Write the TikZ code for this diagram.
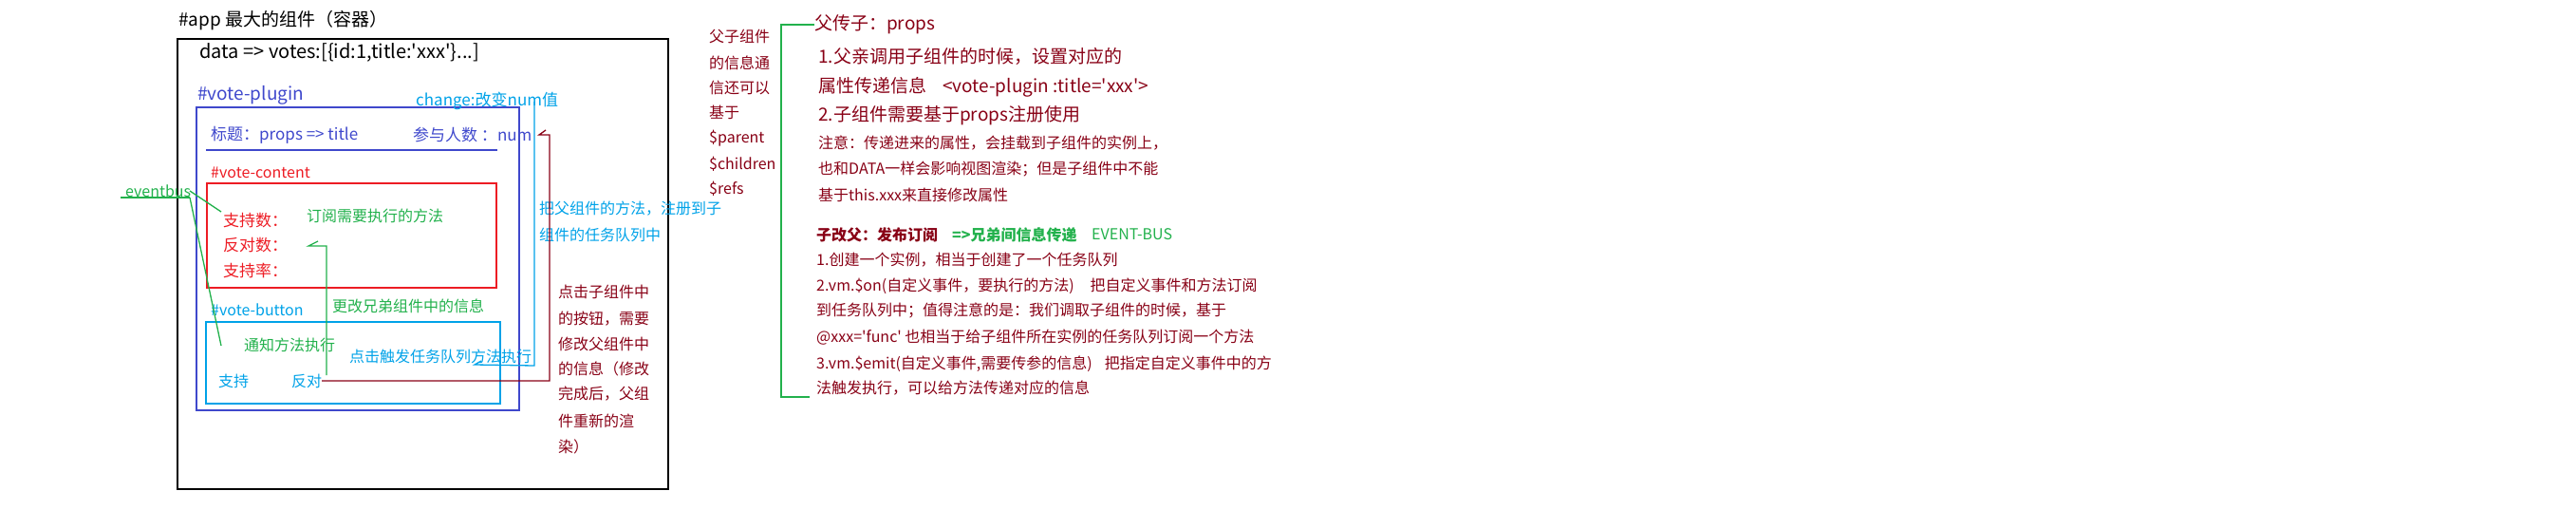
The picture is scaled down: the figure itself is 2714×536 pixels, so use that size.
\documentclass[tikz,border=0pt]{standalone}
\usepackage{fontspec}
\setmainfont{Noto Sans CJK SC}
\definecolor{pblue}{HTML}{3F48CC}
\definecolor{pred}{HTML}{ED1C24}
\definecolor{pcyan}{HTML}{00A2E8}
\definecolor{pgreen}{HTML}{22B14C}
\definecolor{pdark}{HTML}{880015}
\newcommand{\fs}[1]{\fontsize{#1}{#1}\selectfont}
\newcommand{\sq}{\textquotesingle}
\tikzset{
  txt/.style={anchor=west, inner sep=0pt, font=\fs{16}},
  big/.style={txt, font=\fs{19}},
  mid/.style={txt, font=\fs{17}},
  boxline/.style={draw, line width=1.3pt},
  conn/.style={line width=1.3pt},
}
\begin{document}
\begin{tikzpicture}[x=1pt,y=-1pt]
\useasboundingbox (0,0) rectangle (2714,536);
% boxes
\draw[boxline, black] (187,41) rectangle (704,515);
\draw[boxline, pblue] (207,113) rectangle (547,432);
\draw[boxline, pred] (218,193) rectangle (523,303);
\draw[boxline, pcyan] (217,339) rectangle (527,425);
\draw[conn, pblue] (217,158) -- (524,158);

% black texts
\node[big] (apptitle) at (188,22) {\#app 最大的组件（容器）};
\node[txt, font=\fs{20}] (data) at (210,55) {data => votes:[\{id:1,title:\sq xxx\sq\}...]};

% blue texts
\node[big, text=pblue] (vp) at (208,100) {\#vote-plugin};
\node[mid, text=pblue] (title) at (222,142) {标题：props => title};
\node[mid, text=pblue] (num) at (435,142) {参与人数 ：num};

% red texts
\node[txt, text=pred] (vc) at (222,182) {\#vote-content};
\node[mid, text=pred] (zcs) at (235,232) {支持数：};
\node[mid, text=pred] (fds) at (235,258) {反对数：};
\node[mid, text=pred] (zcl) at (235,285) {支持率：};

% cyan texts
\node[mid, text=pcyan] (change) at (438,106) {change:改变num值};
\node[txt, text=pcyan] (reg1) at (568,220) {把父组件的方法，注册到子};
\node[txt, text=pcyan] (reg2) at (568,247) {组件的任务队列中};
\node[txt, text=pcyan] (vb) at (222,326) {\#vote-button};
\node[txt, text=pcyan] (click) at (368,375) {点击触发任务队列方法执行};
\node[txt, text=pcyan] (zc) at (230,401) {支持};
\node[txt, text=pcyan] (fd) at (307,401) {反对};

% green texts
\node[txt, text=pgreen] (eb) at (132,201) {eventbus};
\node[txt, text=pgreen] (sub) at (323,227) {订阅需要执行的方法};
\node[txt, text=pgreen] (sib) at (350,322) {更改兄弟组件中的信息};
\node[txt, text=pgreen] (notify) at (257,363) {通知方法执行};

% dark red column
\node[txt, text=pdark] (p1) at (747,38) {父子组件};
\node[txt, text=pdark] (p2) at (747,66) {的信息通};
\node[txt, text=pdark] (p3) at (747,92) {信还可以};
\node[txt, text=pdark] (p4) at (747,118) {基于};
\node[txt, text=pdark] (p5) at (747,146) {\$parent};
\node[txt, text=pdark] (p6) at (747,173) {\$children};
\node[txt, text=pdark] (p7) at (747,199) {\$refs};

% dark red note in middle
\node[txt, text=pdark] (c1) at (588,307) {点击子组件中};
\node[txt, text=pdark] (c2) at (588,336) {的按钮，需要};
\node[txt, text=pdark] (c3) at (588,362) {修改父组件中};
\node[txt, text=pdark] (c4) at (588,388) {的信息（修改};
\node[txt, text=pdark] (c5) at (588,415) {完成后，父组};
\node[txt, text=pdark] (c6) at (588,443) {件重新的渲};
\node[txt, text=pdark] (c7) at (588,470) {染）};

% right block
\node[big, text=pdark] (r0) at (858,26) {父传子：props};
\node[big, text=pdark] (r1) at (862,59) {1.父亲调用子组件的时候，设置对应的};
\node[big, text=pdark] (r2) at (862,92) {属性传递信息\hspace{17pt}<vote-plugin :title=\sq xxx\sq>};
\node[big, text=pdark] (r3) at (862,122) {2.子组件需要基于props注册使用};
\node[txt, text=pdark] (r4) at (862,151) {注意：传递进来的属性，会挂载到子组件的实例上，};
\node[txt, text=pdark] (r5) at (862,178) {也和DATA一样会影响视图渲染；但是子组件中不能};
\node[txt, text=pdark] (r6) at (862,205) {基于this.xxx来直接修改属性};
\node[txt, text=pdark, font=\fs{16}\bfseries] (s0) at (860,247) {子改父：发布订阅};
\node[txt, text=pgreen, font=\fs{16}\bfseries] (s0b) at (1003,247) {=>兄弟间信息传递};
\node[txt, text=pgreen] (s0c) at (1150,247) {EVENT-BUS};
\node[txt, text=pdark] (s1) at (860,274) {1.创建一个实例，相当于创建了一个任务队列};
\node[txt, text=pdark] (s2) at (860,301) {2.vm.\$on(自定义事件，要执行的方法)\hspace{17pt}把自定义事件和方法订阅};
\node[txt, text=pdark] (s3) at (860,327) {到任务队列中；值得注意的是：我们调取子组件的时候，基于};
\node[txt, text=pdark] (s4) at (860,355) {@xxx=\sq func\sq{} 也相当于给子组件所在实例的任务队列订阅一个方法};
\node[txt, text=pdark] (s5) at (860,383) {3.vm.\$emit(自定义事件,需要传参的信息)\hspace{13pt}把指定自定义事件中的方};
\node[txt, text=pdark] (s6) at (860,409) {法触发执行，可以给方法传递对应的信息};

% connectors
% green eventbus
\coordinate (ebu1) at (127,208);
\coordinate (ebu2) at (200,208);
\coordinate (ebt) at (200,201);
\coordinate (zcsend) at (233,223);
\coordinate (notend) at (233,364);
\draw[conn, pgreen] (ebu1) -- (ebu2);
\draw[conn, pgreen] (ebt) -- (zcsend);
\draw[conn, pgreen] (ebu2) -- (notend);
% green from 反对 up to 反对数
\coordinate (g1) at (344,395);
\coordinate (g2) at (344,259);
\coordinate (g3) at (325,259);
\coordinate (g4) at (335,254);
\draw[conn, pgreen] (g1) -- (g2) -- (g3) -- (g4);
% green bracket
\coordinate (b1) at (858,26);
\coordinate (b2) at (823,26);
\coordinate (b3) at (823,418);
\coordinate (b4) at (853,418);
\draw[conn, pgreen] (b1) -- (b2) -- (b3) -- (b4);
% cyan
\coordinate (cy1) at (563,107);
\coordinate (cy2) at (563,385);
\coordinate (cy3) at (500,384);
\coordinate (cy4) at (507,380);
\draw[conn, pcyan] (cy1) -- (cy2) -- (cy3) -- (cy4);
% dark red
\coordinate (d1) at (339,401);
\coordinate (d2) at (579,401);
\coordinate (d3) at (579,142);
\coordinate (d4) at (568,142);
\coordinate (d5) at (575,137);
\draw[conn, pdark] (d1) -- (d2) -- (d3) -- (d4) -- (d5);
\end{tikzpicture}
\end{document}
